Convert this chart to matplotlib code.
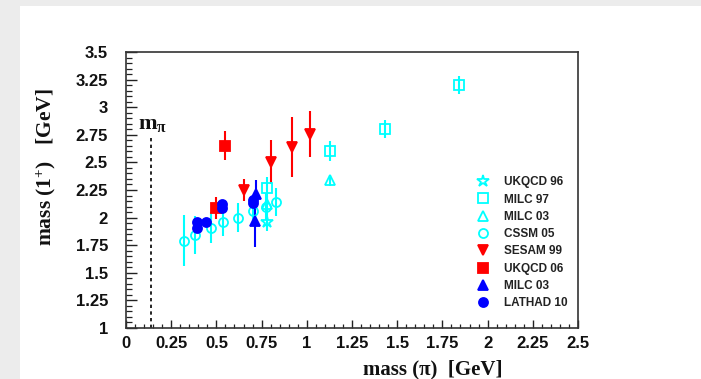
import matplotlib
matplotlib.use("Agg")
import matplotlib.pyplot as plt
from matplotlib.lines import Line2D
from matplotlib.patches import Rectangle
from matplotlib.ticker import MultipleLocator

plt.rcParams['mathtext.fontset'] = 'custom'
plt.rcParams['mathtext.rm'] = 'Liberation Serif'
plt.rcParams['mathtext.it'] = 'Liberation Serif:italic'
plt.rcParams['mathtext.bf'] = 'Liberation Serif:bold'

# lattice results: (m_pi, m_1+, error) per collaboration
ukqcd96_x = [0.78]
ukqcd96_y = [1.96]
ukqcd96_err = [0.08]

milc97_x = [0.78, 1.13, 1.43, 1.84]
milc97_y = [2.27, 2.60, 2.80, 3.20]
milc97_err = [0.10, 0.09, 0.08, 0.08]

milc03o_x = [0.78, 1.13]
milc03o_y = [2.12, 2.34]
milc03o_err = [0.08, 0.05]

cssm05_x = [0.32, 0.38, 0.47, 0.535, 0.62, 0.70, 0.775, 0.83]
cssm05_y = [1.79, 1.84, 1.91, 1.96, 2.00, 2.06, 2.10, 2.14]
cssm05_err = [0.23, 0.17, 0.14, 0.13, 0.13, 0.12, 0.12, 0.13]

sesam99_x = [0.65, 0.80, 0.92, 1.02]
sesam99_y = [2.25, 2.50, 2.64, 2.76]
sesam99_err = [0.10, 0.20, 0.27, 0.21]

ukqcd06_x = [0.50, 0.55]
ukqcd06_y = [2.09, 2.65]
ukqcd06_err = [0.10, 0.13]

milc03f_x = [0.72, 0.715]
milc03f_y = [2.21, 1.97]
milc03f_err = [0.13, 0.24]

lathad10_x = [0.39, 0.39, 0.445, 0.53, 0.53, 0.70, 0.70]
lathad10_y = [1.96, 1.91, 1.96, 2.12, 2.09, 2.16, 2.13]
lathad10_err = [0.02, 0.02, 0.02, 0.02, 0.02, 0.02, 0.02]

m_pi = 0.14
m_pi_top = 2.73

CYAN = '#00ffff'
RED = '#ff0000'
BLUE = '#0000ff'

# (label, x, y, err, color, marker, filled)
series = [
    ('UKQCD 96', ukqcd96_x, ukqcd96_y, ukqcd96_err, CYAN, '*', False),
    ('MILC 97', milc97_x, milc97_y, milc97_err, CYAN, 's', False),
    ('MILC 03', milc03o_x, milc03o_y, milc03o_err, CYAN, '^', False),
    ('CSSM 05', cssm05_x, cssm05_y, cssm05_err, CYAN, 'o', False),
    ('SESAM 99', sesam99_x, sesam99_y, sesam99_err, RED, 'v', True),
    ('UKQCD 06', ukqcd06_x, ukqcd06_y, ukqcd06_err, RED, 's', True),
    ('MILC 03', milc03f_x, milc03f_y, milc03f_err, BLUE, '^', True),
    ('LATHAD 10', lathad10_x, lathad10_y, lathad10_err, BLUE, 'o', True),
]

fig = plt.figure(figsize=(7.01, 3.79), dpi=100, facecolor='#ececec')
fig.patches.append(Rectangle((20 / 701, 0), 1, 373 / 379, transform=fig.transFigure,
                             facecolor='white', edgecolor='none', zorder=-10))

ax = fig.add_axes([126 / 701, 51 / 379, 452 / 701, 276 / 379])
ax.set_facecolor('white')

handles = []
for label, xs, ys, errs, col, mk, filled in series:
    ms = 9 if mk == '*' else 6.5
    fc = col if filled else 'none'
    ax.errorbar(xs, ys, yerr=errs, fmt=mk, color=col, ecolor=col, elinewidth=1.5,
                capsize=0, markersize=ms, markerfacecolor=fc, markeredgecolor=col,
                markeredgewidth=1.3, zorder=3)
    handles.append(Line2D([], [], linestyle='none', marker=mk, color=col,
                          markersize=ms, markerfacecolor=fc, markeredgecolor=col,
                          markeredgewidth=1.3, label=label))

# pion mass marker
ax.plot([m_pi, m_pi], [1.0, m_pi_top], color='black', linestyle=(0, (2, 2)), linewidth=1.2)
ax.text(m_pi - 0.075, m_pi_top + 0.03, r'$\mathbf{m}_{\mathbf{\pi}}$', fontsize=16,
        ha='left', va='bottom', color='#111111')

ax.set_xlim(0, 2.5)
ax.set_ylim(1, 3.5)
ax.xaxis.set_major_locator(MultipleLocator(0.25))
ax.xaxis.set_minor_locator(MultipleLocator(0.05))
ax.yaxis.set_major_locator(MultipleLocator(0.25))
ax.yaxis.set_minor_locator(MultipleLocator(0.05))

def fmt(v, pos):
    s = ('%.2f' % v).rstrip('0').rstrip('.')
    return s

ax.xaxis.set_major_formatter(plt.FuncFormatter(fmt))
ax.yaxis.set_major_formatter(plt.FuncFormatter(fmt))

ax.tick_params(which='both', direction='in', top=False, right=False, colors='#222222')
ax.tick_params(axis='y', which='major', length=8, width=1.0, pad=13)
ax.tick_params(axis='y', which='minor', length=4, width=0.9)
ax.tick_params(axis='x', which='major', length=6, width=1.0, pad=6)
ax.tick_params(axis='x', which='minor', length=3, width=0.9)
for t in ax.get_xticklabels() + ax.get_yticklabels():
    t.set_fontfamily('Liberation Sans')
    t.set_fontweight('bold')
    t.set_fontsize(12)
    t.set_color('#111111')
for sp in ax.spines.values():
    sp.set_linewidth(1.2)
    sp.set_color('#333333')

fig.text(433 / 701, 1 - 369 / 379, 'mass (\u03c0)  [GeV]', fontfamily='Liberation Serif',
         fontweight='bold', fontsize=15, ha='center', va='center', color='#111111')
fig.text(46 / 701, 1 - 167 / 379, r'mass (1$^{\mathbf{+}}$)   [GeV]',
         fontfamily='Liberation Serif', fontweight='bold', fontsize=15.5,
         ha='center', va='center', rotation=90, color='#111111')

leg = ax.legend(handles=handles, loc='upper left', bbox_to_anchor=(0.777, 0.55),
                frameon=False, borderpad=0, handlelength=1.0, handletextpad=1.3,
                labelspacing=0.45, borderaxespad=0,
                prop={'family': 'Liberation Sans', 'weight': 'bold', 'size': 8.5})
for t in leg.get_texts():
    t.set_color('#222222')

fig.savefig('out.png', dpi=100, facecolor=fig.get_facecolor())
